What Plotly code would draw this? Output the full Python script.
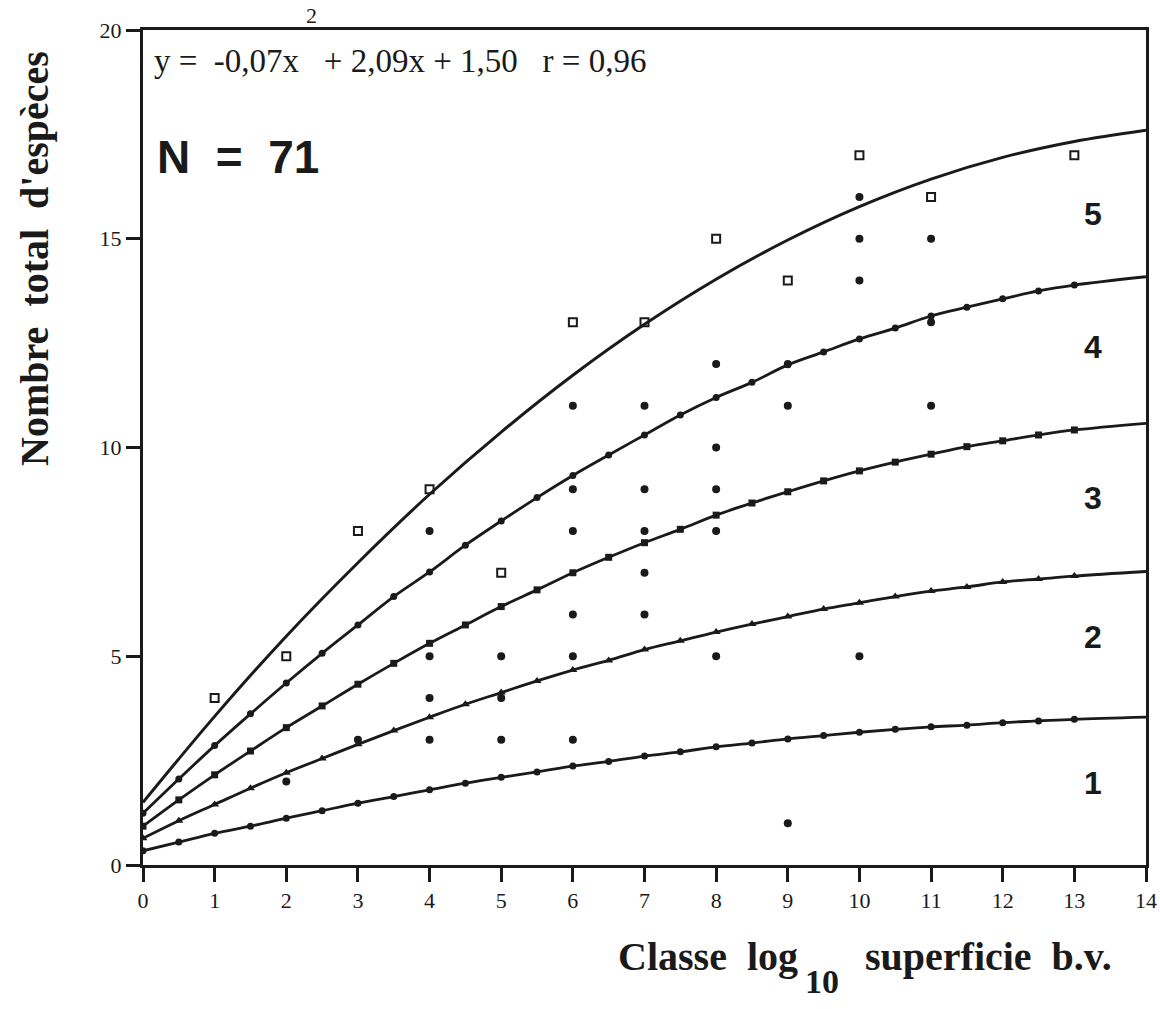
import plotly.graph_objects as go

# ---------------- data ----------------
curve_x = [0, 0.5, 1, 1.5, 2, 2.5, 3, 3.5, 4, 4.5, 5, 5.5, 6, 6.5, 7, 7.5,
           8, 8.5, 9, 9.5, 10, 10.5, 11, 11.5, 12, 12.5, 13, 14]
curve1 = [0.34, 0.55, 0.76, 0.93, 1.12, 1.30, 1.48, 1.64, 1.80, 1.96, 2.10, 2.23, 2.37, 2.48,
          2.61, 2.71, 2.83, 2.92, 3.02, 3.10, 3.18, 3.25, 3.31, 3.35, 3.41, 3.45, 3.49, 3.54]
curve2 = [0.64, 1.06, 1.45, 1.84, 2.21, 2.55, 2.89, 3.22, 3.54, 3.85, 4.13, 4.41, 4.67, 4.90,
          5.16, 5.37, 5.58, 5.77, 5.95, 6.13, 6.28, 6.43, 6.56, 6.66, 6.78, 6.85, 6.92, 7.03]
curve3 = [0.93, 1.56, 2.16, 2.73, 3.29, 3.81, 4.33, 4.83, 5.31, 5.75, 6.19, 6.59, 7.00, 7.37,
          7.72, 8.04, 8.38, 8.67, 8.94, 9.20, 9.44, 9.65, 9.84, 10.02, 10.16, 10.30, 10.42, 10.58]
curve4 = [1.24, 2.06, 2.86, 3.62, 4.36, 5.07, 5.75, 6.43, 7.02, 7.66, 8.24, 8.80, 9.33, 9.82,
          10.30, 10.78, 11.20, 11.56, 11.98, 12.29, 12.60, 12.86, 13.15, 13.36, 13.56, 13.75, 13.89, 14.09]
curve5_x = [0, 1, 2, 3, 4, 5, 6, 7, 8, 9, 10, 11, 12, 13, 14]
curve5 = [1.50, 3.56, 5.48, 7.24, 8.88, 10.37, 11.73, 12.95, 14.03, 14.97, 15.77, 16.43, 16.95, 17.33, 17.60]

square_x = [1, 2, 3, 4, 5, 6, 7, 8, 9, 10, 11, 13]
square_y = [4, 5, 8, 9, 7, 13, 13, 15, 14, 17, 16, 17]

dot_x = [2, 3, 4, 4, 4, 4, 5, 5, 5, 6, 6, 6, 6, 6, 6, 7, 7, 7, 7, 7,
         8, 8, 8, 8, 8, 9, 9, 9, 10, 10, 10, 10, 11, 11, 11]
dot_y = [2, 3, 3, 4, 5, 8, 3, 4, 5, 3, 5, 6, 8, 9, 11, 6, 7, 8, 9, 11,
         5, 8, 9, 10, 12, 1, 11, 12, 5, 14, 15, 16, 11, 13, 15]

curve_labels = ["1", "2", "3", "4", "5"]
curve_label_y = [1.97, 5.45, 8.8, 12.4, 15.6]
curve_label_x = 13.26

x_ticks = list(range(0, 15))
y_ticks = [0, 5, 10, 15, 20]

# ---------------- figure ----------------
fig = go.Figure()
BLACK = "#1a1a1a"
n_marked = len(curve_x) - 1  # markers drawn up to x = 13

curves = [(curve1, "circle", 7), (curve2, "triangle-up", 8),
          (curve3, "square", 7), (curve4, "circle", 7)]
for ys, sym, sz in curves:
    fig.add_trace(go.Scatter(x=curve_x, y=ys, mode="lines",
                             line=dict(color=BLACK, width=2.8, shape="spline"),
                             hoverinfo="skip", showlegend=False))
    fig.add_trace(go.Scatter(x=curve_x[:n_marked], y=ys[:n_marked], mode="markers",
                             marker=dict(symbol=sym, size=sz, color=BLACK),
                             showlegend=False))

fig.add_trace(go.Scatter(x=curve5_x, y=curve5, mode="lines",
                         line=dict(color=BLACK, width=3, shape="spline"),
                         showlegend=False))

fig.add_trace(go.Scatter(x=dot_x, y=dot_y, mode="markers",
                         marker=dict(symbol="circle", size=8, color=BLACK),
                         showlegend=False))
fig.add_trace(go.Scatter(x=square_x, y=square_y, mode="markers",
                         marker=dict(symbol="square-open", size=8, color=BLACK,
                                     line=dict(width=2, color=BLACK)),
                         showlegend=False))

serif = "Liberation Serif"
sans = "Liberation Sans"

for lab, ly in zip(curve_labels, curve_label_y):
    fig.add_annotation(x=curve_label_x, y=ly, text="<b>" + lab + "</b>", showarrow=False,
                       font=dict(family=sans, size=32, color=BLACK))

fig.add_annotation(x=0.17, y=16.96, text="<b>N\u00a0\u00a0=\u00a0\u00a071</b>", showarrow=False,
                   xanchor="left", font=dict(family=sans, size=46, color=BLACK))

fig.add_annotation(x=0.12, y=19.25,
                   text="y =\u00a0\u00a0-0,07x\u00a0\u00a0\u00a0+ 2,09x + 1,50\u00a0\u00a0\u00a0r = 0,96",
                   showarrow=False, xanchor="left",
                   font=dict(family=serif, size=33, color=BLACK))
# superscript "2" of the equation, drawn above the frame
fig.add_annotation(xref="paper", yref="paper", x=0.1675, y=1.017, text="2",
                   showarrow=False, xanchor="center", yanchor="middle",
                   font=dict(family=serif, size=22, color=BLACK))

# axis titles
fig.add_annotation(xref="paper", yref="paper", x=-0.1077, y=0.727,
                   xanchor="center", yanchor="middle",
                   text="<b>Nombre\u00a0\u00a0total\u00a0\u00a0d'espèces</b>", textangle=-90,
                   showarrow=False, font=dict(family=serif, size=40, color=BLACK))
fig.add_annotation(xref="paper", yref="paper", x=0.655, y=-0.110,
                   xanchor="right", yanchor="middle",
                   text="<b>Classe\u00a0\u00a0log</b>", showarrow=False,
                   font=dict(family=serif, size=40, color=BLACK))
fig.add_annotation(xref="paper", yref="paper", x=0.677, y=-0.139,
                   xanchor="center", yanchor="middle",
                   text="<b>10</b>", showarrow=False,
                   font=dict(family=serif, size=34, color=BLACK))
fig.add_annotation(xref="paper", yref="paper", x=0.718, y=-0.110,
                   xanchor="left", yanchor="middle",
                   text="<b>superficie\u00a0\u00a0b.v.</b>", showarrow=False,
                   font=dict(family=serif, size=40, color=BLACK))

axis_common = dict(showgrid=False, zeroline=False, showline=True, mirror=True,
                   linecolor=BLACK, linewidth=3, ticks="outside", ticklen=14,
                   tickwidth=2.5, tickcolor=BLACK, automargin=False,
                   tickfont=dict(family=serif, size=22, color=BLACK))
fig.update_xaxes(range=[0, 14], tickvals=x_ticks, **axis_common)
fig.update_yaxes(range=[0, 20], tickvals=y_ticks, **axis_common)

fig.update_layout(width=1160, height=1009, plot_bgcolor="white", paper_bgcolor="white",
                  margin=dict(l=143, r=14, t=30, b=144, autoexpand=False), showlegend=False)

fig.write_html("out.html")
